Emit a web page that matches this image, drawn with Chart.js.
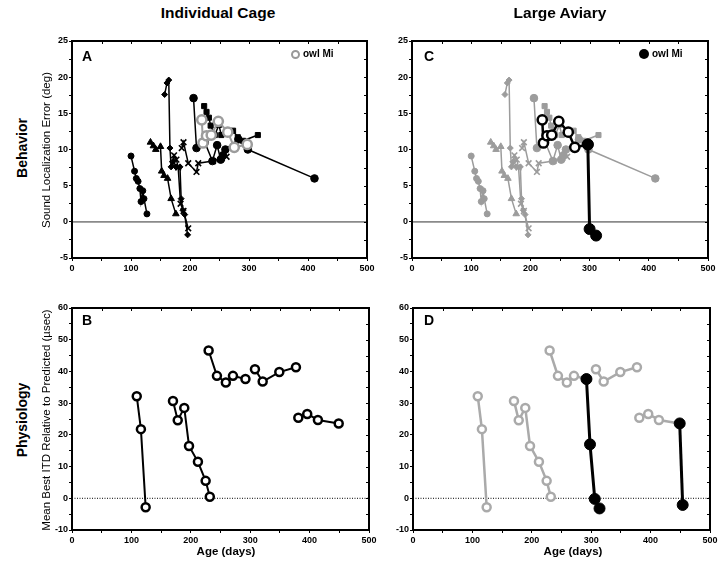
<!DOCTYPE html>
<html>
<head>
<meta charset="utf-8">
<script src="https://cdn.jsdelivr.net/npm/chart.js@4.4.0/dist/chart.umd.min.js"></script>
<style>
  body { margin: 0; background: #fff; font-family: "Liberation Sans", Arial, sans-serif; }
  #fig { position: relative; width: 720px; height: 566px; overflow: hidden; }
  canvas { position: absolute; }
  .t { position: absolute; white-space: nowrap; color: #000; line-height: 1; }
  .col { font-weight: bold; font-size: 15.5px; top: 5px; transform: translateX(-50%); }
  .row { font-weight: bold; font-size: 14px; transform: translate(-50%, -50%) rotate(-90deg); }
  .ytitle { font-size: 11.5px; transform: translate(-50%, -50%) rotate(-90deg); }
  .letter { font-weight: bold; font-size: 14px; }
  .leg { font-weight: bold; font-size: 10px; transform: translateY(-50%); }
  .dot { position: absolute; border-radius: 50%; box-sizing: border-box; }
  .xtitle { font-weight: bold; font-size: 11.5px; transform: translate(-50%, -50%); }
</style>
</head>
<body>
<div id="fig">
  <canvas id="cA" width="344" height="250" style="left:36px;top:30px"></canvas>
  <canvas id="cC" width="344" height="250" style="left:376px;top:30px"></canvas>
  <canvas id="cB" width="344" height="252" style="left:36px;top:298px"></canvas>
  <canvas id="cD" width="343" height="252" style="left:377px;top:298px"></canvas>

  <div class="t col" style="left:218px">Individual Cage</div>
  <div class="t col" style="left:560px">Large Aviary</div>
  <div class="t row" style="left:22px;top:148px">Behavior</div>
  <div class="t row" style="left:22px;top:420px">Physiology</div>
  <div class="t ytitle" style="left:47px;top:150px">Sound Localization Error (deg)</div>
  <div class="t ytitle" style="left:47px;top:420px">Mean Best ITD Relative to Predicted (µsec)</div>

  <div class="t letter" style="left:82px;top:49px">A</div>
  <div class="t letter" style="left:424px;top:49px">C</div>
  <div class="t letter" style="left:82px;top:313px">B</div>
  <div class="t letter" style="left:424px;top:313px">D</div>

  <div class="dot" style="left:290.5px;top:49.5px;width:9px;height:9px;border:2.5px solid #999;background:#fff"></div>
  <div class="t leg" style="left:303px;top:54px">owl Mi</div>
  <div class="dot" style="left:639px;top:49px;width:10px;height:10px;background:#000"></div>
  <div class="t leg" style="left:652px;top:54px">owl Mi</div>

  <div class="t xtitle" style="left:226px;top:552px">Age (days)</div>
  <div class="t xtitle" style="left:573px;top:552px">Age (days)</div>
</div>

<script>
// ---- behavior: [age (days), sound localization error (deg)] ----
const behCircleA = [[100, 9.1], [106, 7.0], [109, 6.0], [112, 5.6], [115, 4.6], [117, 2.8], [120, 4.3], [122, 3.2], [127, 1.1]];
const behTriangle = [[133, 11.0], [138, 10.5], [142, 10.0], [150, 10.4], [152, 7.0], [156, 6.4], [162, 6.0], [168, 3.2], [176, 1.1]];
const behDiamond = [[157, 17.6], [161, 19.2], [164, 19.6], [166, 10.2], [168, 7.6], [172, 8.4], [176, 7.6], [183, 7.6], [185, 3.2], [188, 1.6], [191, 1.0], [196, -1.8]];
const behCrossA = [[170, 8.0], [173, 9.2], [177, 8.6], [180, 7.5], [184, 2.5], [189, 1.5], [197, -0.9]];
const behCrossB = [[186, 10.2], [189, 11.0], [197, 8.1], [211, 6.9], [214, 8.1], [239, 8.4], [254, 8.8], [262, 9.0]];
const behCircleB = [[206, 17.1], [211, 10.2], [225, 11.0], [238, 8.4], [246, 10.6], [252, 8.6], [256, 9.2], [260, 10.0], [282, 11.4], [298, 10.0], [411, 6.0]];
const behSquare = [[224, 16.0], [228, 15.2], [232, 14.4], [235, 13.3], [242, 12.0], [249, 13.4], [253, 12.0], [261, 12.2], [273, 12.6], [281, 11.7], [290, 11.2], [315, 12.0]];
const miCage = [[220, 14.1], [222, 10.9], [228, 11.9], [236, 12.0], [248, 13.9], [264, 12.4], [275, 10.3], [297, 10.7]];
const miAviary = [[297, 10.7], [300, -1.0], [311, -1.9]];

// ---- physiology: [age (days), mean best ITD relative to predicted (µsec)] ----
const phys1 = [[109, 32.2], [116, 21.8], [124, -2.8]];
const phys2 = [[170, 30.7], [178, 24.6], [189, 28.5], [197, 16.5], [212, 11.5], [225, 5.5], [232, 0.5]];
const phys3 = [[230, 46.6], [244, 38.6], [259, 36.5], [271, 38.6], [292, 37.6]];
const phys4 = [[308, 40.7], [321, 36.8], [349, 39.8], [377, 41.3]];
const phys5 = [[381, 25.4], [396, 26.6], [414, 24.7], [449, 23.6]];
const physAviary1 = [[292, 37.6], [298, 17.0], [306, -0.2], [314, -3.2]];
const physAviary2 = [[449, 23.6], [454, -2.1]];

const ageTicks = [0, 100, 200, 300, 400, 500];
const errTicks = [-5, 0, 5, 10, 15, 20, 25];
const itdTicks = [-10, 0, 10, 20, 30, 40, 50, 60];

const GRAY = '#9c9c9c';
Chart.defaults.font.family = '"Liberation Sans", Arial, sans-serif';
Chart.defaults.font.size = 9;
Chart.defaults.font.weight = 'bold';
Chart.defaults.color = '#000';

function ser(pts, o) {
  return Object.assign({
    data: pts.map(p => ({ x: p[0], y: p[1] })),
    showLine: true,
    borderWidth: 1.5,
    pointBorderWidth: 1,
    pointRadius: 3,
    pointHoverRadius: 0
  }, o);
}

function filled(color, style, r, extra) {
  return Object.assign({
    borderColor: color, pointBackgroundColor: color, pointBorderColor: color,
    pointStyle: style, pointRadius: r
  }, extra || {});
}

// frame, mirrored inner ticks and zero line
const framePlugin = {
  id: 'frame',
  beforeDatasetsDraw(chart, args, opts) {
    const { ctx, chartArea: a, scales: { y } } = chart;
    const y0 = y.getPixelForValue(0);
    ctx.save();
    if (opts.dotted) {
      ctx.strokeStyle = '#000';
      ctx.lineWidth = 1;
      ctx.setLineDash([1, 1.5]);
    } else {
      ctx.strokeStyle = '#8a8a8a';
      ctx.lineWidth = 1.6;
    }
    ctx.beginPath();
    ctx.moveTo(a.left, y0);
    ctx.lineTo(a.right, y0);
    ctx.stroke();
    ctx.restore();
  },
  afterDraw(chart) {
    const { ctx, chartArea: a, scales: { x, y } } = chart;
    ctx.save();
    ctx.strokeStyle = '#000';
    ctx.lineWidth = 1;
    ctx.beginPath();
    x.ticks.forEach(t => {
      const px = Math.round(x.getPixelForValue(t.value)) + 0.5;
      ctx.moveTo(px, a.top);
      ctx.lineTo(px, a.top + 3);
    });
    y.ticks.forEach(t => {
      const py = Math.round(y.getPixelForValue(t.value)) + 0.5;
      ctx.moveTo(a.right, py);
      ctx.lineTo(a.right - 3, py);
    });
    ctx.stroke();
    ctx.lineWidth = 2;
    ctx.strokeRect(a.left, a.top, a.right - a.left, a.bottom - a.top);
    ctx.restore();
  }
};

function panel(id, datasets, yMin, yMax, yStep, yLabels, pad, dotted) {
  // later datasets are drawn on top
  datasets.forEach((d, i) => { d.order = datasets.length - i; });
  new Chart(document.getElementById(id), {
    type: 'scatter',
    data: { datasets },
    plugins: [framePlugin],
    options: {
      responsive: false,
      animation: false,
      layout: { autoPadding: false, padding: { left: 0, top: pad.top, right: pad.right, bottom: 0 } },
      plugins: { legend: { display: false }, tooltip: { enabled: false }, frame: { dotted } },
      scales: {
        x: {
          type: 'linear', min: 0, max: 500,
          afterFit: s => { s.height = pad.xh; },
          ticks: { stepSize: 50, padding: 2, maxRotation: 0,
                   callback: v => ageTicks.includes(v) ? v : '' },
          grid: { drawOnChartArea: false, tickLength: 3, color: '#000' },
          border: { display: true, color: '#000', width: 2 }
        },
        y: {
          type: 'linear', min: yMin, max: yMax,
          afterFit: s => { s.width = 36; },
          ticks: { stepSize: yStep, padding: 1,
                   callback: v => yLabels.includes(v) ? v : '' },
          grid: { drawOnChartArea: false, tickLength: 3, color: '#000' },
          border: { display: true, color: '#000', width: 2 }
        }
      }
    }
  });
}

// A: individual cage, behavior
panel('cA', [
  ser(behCircleA, filled('#000', 'circle', 3)),
  ser(behTriangle, filled('#000', 'triangle', 3.8)),
  ser(behDiamond, filled('#000', 'rectRot', 3)),
  ser(behCrossA, filled('#000', 'crossRot', 4, { pointBorderWidth: 1.6 })),
  ser(behCrossB, filled('#000', 'crossRot', 4, { pointBorderWidth: 1.6 })),
  ser(behCircleB, filled('#000', 'circle', 3.8)),
  ser(behSquare, filled('#000', 'rect', 3.6)),
  ser(miCage, { borderColor: GRAY, borderWidth: 2, pointBackgroundColor: '#fff', pointBorderColor: GRAY,
                pointBorderWidth: 2.5, pointRadius: 4.6 })
], -5, 25, 2.5, errTicks, { top: 11, right: 13, xh: 22 }, false);

// C: large aviary, behavior
panel('cC', [
  ser(behCircleA, filled(GRAY, 'circle', 3)),
  ser(behTriangle, filled(GRAY, 'triangle', 3.8)),
  ser(behDiamond, filled(GRAY, 'rectRot', 3)),
  ser(behCrossA, filled(GRAY, 'crossRot', 4, { pointBorderWidth: 1.6 })),
  ser(behCrossB, filled(GRAY, 'crossRot', 4, { pointBorderWidth: 1.6 })),
  ser(behCircleB, filled(GRAY, 'circle', 3.8)),
  ser(behSquare, filled(GRAY, 'rect', 3.6)),
  ser(miCage, { borderColor: '#000', borderWidth: 2.5, pointBackgroundColor: '#fff', pointBorderColor: '#000',
                pointBorderWidth: 2.5, pointRadius: 4.6 }),
  ser(miAviary, filled('#000', 'circle', 5.5, { borderWidth: 3 }))
], -5, 25, 2.5, errTicks, { top: 11, right: 12, xh: 22 }, false);

// B: individual cage, physiology
const openBlack = { borderColor: '#000', borderWidth: 2, pointBackgroundColor: '#fff', pointBorderColor: '#000',
                    pointBorderWidth: 2.5, pointRadius: 4 };
panel('cB', [phys1, phys2, phys3, phys4, phys5].map(p => ser(p, openBlack)),
  -10, 60, 5, itdTicks, { top: 10, right: 11, xh: 20 }, true);

// D: large aviary, physiology
const openGray = { borderColor: '#aaa', borderWidth: 2.5, pointBackgroundColor: '#fff', pointBorderColor: '#aaa',
                   pointBorderWidth: 2.5, pointRadius: 4 };
panel('cD', [phys1, phys2, phys3, phys4, phys5].map(p => ser(p, openGray)).concat([
  ser(physAviary1, filled('#000', 'circle', 5.5, { borderWidth: 3 })),
  ser(physAviary2, filled('#000', 'circle', 5.5, { borderWidth: 3 }))
]), -10, 60, 5, itdTicks, { top: 10, right: 10, xh: 20 }, true);
</script>
</body>
</html>
